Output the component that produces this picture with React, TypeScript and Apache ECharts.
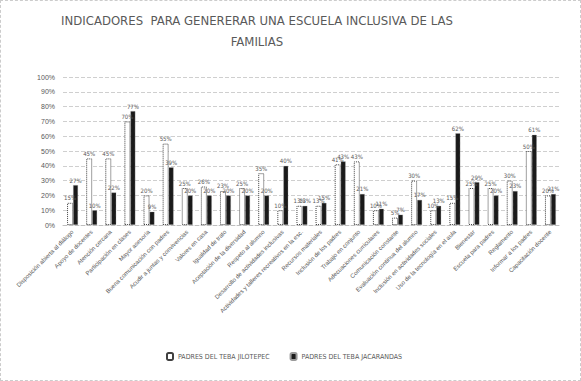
import React, { useEffect, useRef } from "react";
import * as echarts from "echarts";

const categories = [
  "Disposición abierta al diálogo",
  "Apoyo de docentes",
  "Atención cercana",
  "Participación en clases",
  "Mayor asesoría",
  "Buena comunicación con padres",
  "Acudir a juntas y convivencias",
  "Valores en casa",
  "Igualdad de trato",
  "Aceptación de la diversidad",
  "Respeto al alumno",
  "Desarrollo de actividades inclusivas",
  "Actividades y talleres recreativos en la esc.",
  "Recursos materiales",
  "Inclusión de los padres",
  "Trabajo en conjunto",
  "Adecuaciones curriculares",
  "Comunicación constante",
  "Evaluación continua del alumno",
  "Inclusión en actividades sociales",
  "Uso de la tecnología en el aula",
  "Bienestar",
  "Escuela para padres",
  "Reglamento",
  "Informar a los padres",
  "Capacitación docente",
];

const jilotepec = [15, 45, 45, 70, 20, 55, 25, 26, 23, 25, 35, 10, 13, 13, 41, 43, 10, 5, 30, 10, 15, 25, 25, 30, 50, 20];
const jacarandas = [27, 10, 22, 77, 9, 39, 20, 20, 20, 20, 20, 40, 13, 15, 43, 21, 11, 7, 17, 13, 62, 29, 20, 23, 61, 21];

const seriesNames = ["PADRES DEL TEBA JILOTEPEC", "PADRES DEL TEBA JACARANDAS"];
const titleText = "INDICADORES  PARA GENERERAR UNA ESCUELA INCLUSIVA DE LAS\nFAMILIAS";

export default function App() {
  const ref = useRef<HTMLDivElement>(null);
  useEffect(() => {
    if (!ref.current) return;
    const chart = echarts.init(ref.current, null, { renderer: "svg" });
    const labelBase = {
      show: true,
      position: "top" as const,
      distance: 2,
      formatter: "{c}%",
      fontSize: 6,
      color: "#595959",
      fontFamily: "DejaVu Sans Condensed, sans-serif",
    };
    chart.setOption({
      animation: false,
      backgroundColor: "#ffffff",
      graphic: [
        {
          type: "text",
          x: 256,
          y: 9,
          style: {
            text: titleText,
            textAlign: "center",
            fill: "#595959",
            fontSize: 13,
            lineHeight: 21,
            fontFamily: "DejaVu Sans Condensed, sans-serif",
          },
        },
      ],
      legend: {
        bottom: 14,
        left: 160,
        itemWidth: 6,
        itemHeight: 7,
        itemGap: 20,
        textStyle: {
          fontSize: 7,
          color: "#595959",
          fontFamily: "DejaVu Sans Condensed, sans-serif",
        },
        data: seriesNames,
      },
      grid: { left: 62, right: 20, top: 76, height: 148, containLabel: false },
      xAxis: {
        type: "category",
        data: categories,
        axisTick: { show: false },
        axisLine: { lineStyle: { color: "#bfbfbf", type: "dashed" } },
        axisLabel: {
          rotate: 45,
          interval: 0,
          fontSize: 6,
          color: "#595959",
          margin: 6,
          fontFamily: "Liberation Sans, sans-serif",
        },
      },
      yAxis: {
        type: "value",
        min: 0,
        max: 100,
        interval: 10,
        axisLabel: {
          formatter: "{value}%",
          fontSize: 7,
          color: "#595959",
          fontFamily: "Liberation Sans, sans-serif",
        },
        axisLine: { show: false },
        axisTick: { show: false },
        splitLine: { lineStyle: { color: "#cfcfcf", type: "dashed" } },
      },
      series: [
        {
          name: seriesNames[0],
          type: "bar",
          data: jilotepec,
          barWidth: 6,
          barGap: "0%",
          itemStyle: { color: "#ffffff", borderColor: "#404040", borderWidth: 1, borderType: "dotted" },
          label: { ...labelBase },
        },
        {
          name: seriesNames[1],
          type: "bar",
          data: jacarandas,
          barWidth: 5,
          itemStyle: { color: "#1a1a1a", borderColor: "#9a9a9a", borderWidth: 0.6, borderType: "dotted" },
          label: { ...labelBase },
        },
      ],
    });
    return () => chart.dispose();
  }, []);
  return (
    <div
      ref={ref}
      style={{
        position: "fixed",
        left: 0,
        top: 0,
        width: 581,
        height: 381,
        border: "1px dashed #cccccc",
        boxSizing: "border-box",
      }}
    />
  );
}
